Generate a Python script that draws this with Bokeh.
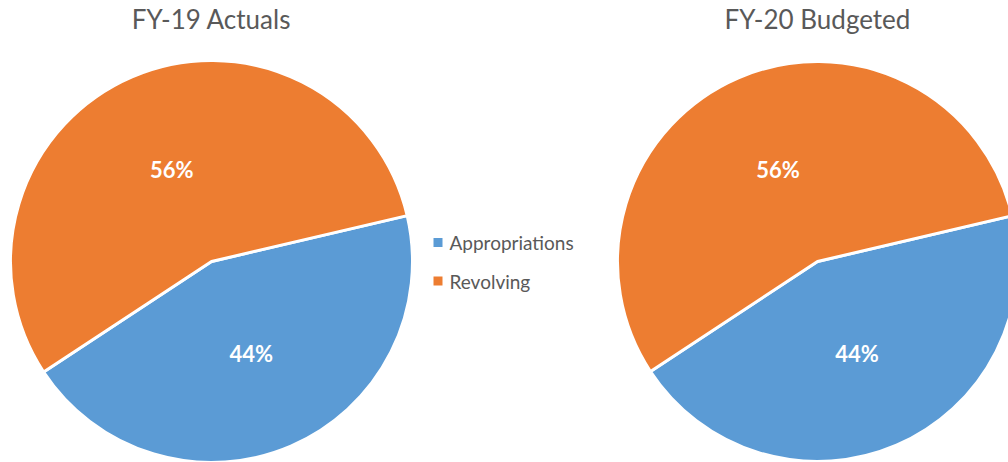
import math
from bokeh.plotting import figure
from bokeh.models import Range1d
from bokeh.core.properties import value
from bokeh.embed import file_html
from bokeh.resources import INLINE

categories = ["Appropriations", "Revolving"]
fy19_values = [44.4, 55.6]
fy20_values = [44.4, 55.6]
fy19_labels = ["44%", "56%"]
fy20_labels = ["44%", "56%"]
titles = ["FY-19 Actuals", "FY-20 Budgeted"]
colors = ["#5B9BD5", "#ED7D31"]

W, H = 1008, 462
FONT = "Lato"
GREY = "#595959"

p = figure(width=W, height=H, output_backend="svg", toolbar_location=None,
           x_range=Range1d(0, W), y_range=Range1d(0, H), min_border=0)
p.axis.visible = False
p.grid.visible = False
p.outline_line_color = None
p.background_fill_color = "white"

pies = [
    dict(cx=211, cy=H - 261, r=201, vals=fy19_values, labels=fy19_labels, title=titles[0]),
    dict(cx=817, cy=H - 261, r=200, vals=fy20_values, labels=fy20_labels, title=titles[1]),
]
start_deg = 13.2
for pie in pies:
    total = sum(pie["vals"])
    spans = [2 * math.pi * v / total for v in pie["vals"]]
    s_list, e_list, lx, ly = [], [], [], []
    cur = math.radians(start_deg)
    for sp in spans:
        s_list.append(cur - sp)
        e_list.append(cur)
        cur = cur - sp
    for s, e in zip(s_list, e_list):
        mid = (s + e) / 2
        lx.append(pie["cx"] + 0.5 * pie["r"] * math.cos(mid))
        ly.append(pie["cy"] + 0.5 * pie["r"] * math.sin(mid))
    p.wedge(x=[pie["cx"]] * len(spans), y=[pie["cy"]] * len(spans), radius=pie["r"],
            start_angle=s_list, end_angle=e_list, fill_color=colors,
            line_color="white", line_width=3)
    p.text(x=lx, y=ly, text=pie["labels"], text_color="white",
           text_font=value(FONT), text_font_style="bold", text_font_size="22px",
           text_align="center", text_baseline="middle")
    p.text(x=[pie["cx"]], y=[H - 18], text=[pie["title"]], text_color=GREY,
           text_font=value(FONT), text_font_size="26px",
           text_align="center", text_baseline="middle")

# legend
leg_y = [H - 242, H - 280.5]
p.scatter(x=[437.5, 437.5], y=leg_y, marker="square", size=9, fill_color=colors, line_color=None)
p.text(x=[449, 449], y=leg_y, text=categories, text_color=GREY,
       text_font=value(FONT), text_font_size="19px",
       text_align="left", text_baseline="middle")

open("out.html", "w").write(file_html(p, INLINE))
